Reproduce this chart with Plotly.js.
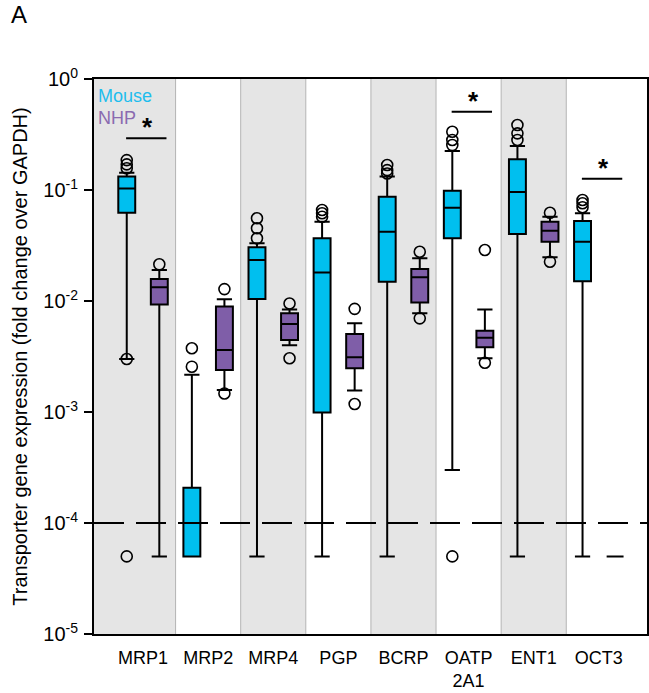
<!DOCTYPE html>
<html>
<head>
<meta charset="utf-8">
<script src="https://cdn.plot.ly/plotly-3.0.1.min.js"></script>
<style>
  html, body { margin: 0; padding: 0; background: #ffffff; }
  #chart { width: 649px; height: 693px; }
</style>
</head>
<body>
<div id="chart"></div>
<script>
// Transporter genes (x categories)
const categories = ['MRP1', 'MRP2', 'MRP4', 'PGP', 'BCRP', 'OATP<br>2A1', 'ENT1', 'OCT3'];

// Mouse box statistics (fold change over GAPDH)
const mouseLower  = [0.003,  5e-5,    5e-5,   5e-5,    5e-5,   3.0e-4, 5e-5,   5e-5];
const mouseQ1     = [0.0625, 5e-5,    0.0104, 9.9e-4,  0.0149, 0.0367, 0.0401, 0.0151];
const mouseMedian = [0.103,  1.0e-4,  0.0234, 0.0181,  0.042,  0.0693, 0.096,  0.0342];
const mouseQ3     = [0.132,  2.08e-4, 0.0305, 0.0367,  0.087,  0.0985, 0.189,  0.0526];
const mouseUpper  = [0.143,  2.17e-3, 0.0331, 0.0518,  0.132,  0.2245, 0.249,  0.0617];

// NHP box statistics
const nhpLower  = [5e-5,   1.58e-3, 4.0e-3,  1.56e-3, 7.75e-3, 3.05e-3, 0.0248, 5e-5];
const nhpQ1     = [0.0093, 2.39e-3, 4.45e-3, 2.48e-3, 9.7e-3,  3.83e-3, 0.0342, 5e-5];
const nhpMedian = [0.0133, 3.62e-3, 6.2e-3,  3.11e-3, 0.0164,  4.67e-3, 0.043,  5e-5];
const nhpQ3     = [0.0158, 8.9e-3,  7.75e-3, 5.04e-3, 0.0194,  5.4e-3,  0.0518, 5e-5];
const nhpUpper  = [0.019,  0.01035, 8.4e-3,  6.3e-3,  0.0243,  8.4e-3,  0.0575, 5e-5];

// Outliers: [category index, value]
const mouseOutliers = [
  [0, 0.186], [0, 0.17], [0, 0.157], [0, 0.003], [0, 5e-5],
  [1, 3.75e-3], [1, 2.56e-3],
  [2, 0.0556], [2, 0.0452], [2, 0.0367],
  [3, 0.066], [3, 0.0617], [3, 0.0575],
  [4, 0.168], [4, 0.151], [4, 0.141],
  [5, 0.335], [5, 0.282], [5, 0.254], [5, 5e-5],
  [6, 0.385], [6, 0.324], [6, 0.282],
  [7, 0.0813], [7, 0.0759], [7, 0.0699]
];
const nhpOutliers = [
  [0, 0.0214],
  [1, 0.0128], [1, 1.47e-3],
  [2, 9.5e-3], [2, 3.05e-3],
  [3, 8.5e-3], [3, 1.18e-3],
  [4, 0.0278], [4, 6.98e-3],
  [5, 0.0288], [5, 2.78e-3],
  [6, 0.0624], [6, 0.0226]
];

// Significance markers: category index and bar height
const sigCategories = [0, 5, 7];
const sigHeights = [0.292, 0.507, 0.126];

// Detection threshold
const threshold = 1e-4;

const tickValues = [1, 0.1, 0.01, 0.001, 1e-4, 1e-5];
const tickLabels = ['10<sup>0</sup>', '10<sup>-1</sup>', '10<sup>-2</sup>', '10<sup>-3</sup>', '10<sup>-4</sup>', '10<sup>-5</sup>'];

const MOUSE = '#00BFEF';
const NHP = '#7F5EA8';
const OFFSET = 0.25;
const BOXW = 0.26;
const idx = categories.map((_, i) => i);

function boxTrace(name, color, shift, lo, q1, med, q3, hi) {
  return {
    type: 'box', name: name,
    x: idx.map(i => i + shift),
    lowerfence: lo, q1: q1, median: med, q3: q3, upperfence: hi,
    width: BOXW, whiskerwidth: 0.9,
    fillcolor: color,
    line: { color: '#000000', width: 2 },
    boxpoints: false,
    hoverinfo: 'skip',
    showlegend: false
  };
}

function outlierTrace(pts, shift) {
  return {
    type: 'scatter', mode: 'markers',
    x: pts.map(p => p[0] + shift),
    y: pts.map(p => p[1]),
    marker: { symbol: 'circle-open', size: 11, color: '#000000', line: { width: 1.6 } },
    hoverinfo: 'skip', showlegend: false
  };
}

const traces = [
  boxTrace('Mouse', MOUSE, -OFFSET, mouseLower, mouseQ1, mouseMedian, mouseQ3, mouseUpper),
  boxTrace('NHP', NHP, OFFSET, nhpLower, nhpQ1, nhpMedian, nhpQ3, nhpUpper),
  outlierTrace(mouseOutliers, -OFFSET),
  outlierTrace(nhpOutliers, OFFSET)
];

const XMIN = -0.753, XMAX = 7.74;
const last = categories.length - 1;
const shapes = [];
// Alternating shaded bands per gene
idx.forEach(i => {
  const x0 = i === 0 ? XMIN : i - 0.5;
  const x1 = i === last ? XMAX : i + 0.5;
  if (i % 2 === 0) {
    shapes.push({ type: 'rect', xref: 'x', yref: 'paper', x0: x0, x1: x1, y0: 0, y1: 1,
      fillcolor: '#e5e5e5', line: { width: 0 }, layer: 'below' });
  }
  if (i > 0) {
    shapes.push({ type: 'line', xref: 'x', yref: 'paper', x0: i - 0.5, x1: i - 0.5, y0: 0, y1: 1,
      line: { color: '#b4b4b4', width: 1 }, layer: 'below' });
  }
});
// Threshold line
shapes.push({ type: 'line', xref: 'paper', yref: 'y', x0: 0, x1: 1, y0: threshold, y1: threshold,
  line: { color: '#000000', width: 2, dash: '30px,12px' }, layer: 'above' });
// Significance bars
sigCategories.forEach((c, k) => {
  shapes.push({ type: 'line', xref: 'x', yref: 'y', x0: c - 0.26, x1: c + 0.36,
    y0: sigHeights[k], y1: sigHeights[k], line: { color: '#000000', width: 2 } });
});

const annotations = [
  { text: 'A', xref: 'paper', yref: 'paper', x: -0.153, y: 1.116, xanchor: 'left', yanchor: 'middle',
    showarrow: false, font: { size: 24, color: '#000000' } },
  { text: 'Mouse', xref: 'paper', yref: 'paper', x: 0.003, y: 0.97, xanchor: 'left', yanchor: 'middle',
    showarrow: false, font: { size: 18, color: '#1EBDED' } },
  { text: 'NHP', xref: 'paper', yref: 'paper', x: 0.003, y: 0.93, xanchor: 'left', yanchor: 'middle',
    showarrow: false, font: { size: 18, color: '#8A6BB0' } }
];
sigCategories.forEach((c, k) => {
  annotations.push({ text: '<b>*</b>', xref: 'x', yref: 'y', x: c + 0.07, y: Math.log10(sigHeights[k]),
    xanchor: 'center', yanchor: 'bottom', yshift: -6, showarrow: false,
    font: { size: 26, color: '#000000' } });
});

const layout = {
  width: 649, height: 693,
  margin: { l: 94, r: 2, t: 79, b: 59 },
  paper_bgcolor: '#ffffff', plot_bgcolor: '#ffffff',
  font: { family: 'Liberation Sans, Arial, sans-serif', color: '#000000' },
  boxmode: 'overlay',
  showlegend: false,
  xaxis: {
    range: [XMIN, XMAX], tickvals: idx, ticktext: categories,
    ticks: '', showgrid: false, zeroline: false,
    showline: true, mirror: true, linecolor: '#000000', linewidth: 2,
    tickfont: { size: 18 }, ticklabelstandoff: 6
  },
  yaxis: {
    type: 'log', range: [-5, 0],
    tickvals: tickValues, ticktext: tickLabels,
    ticks: 'outside', ticklen: 8, tickwidth: 2, tickcolor: '#000000',
    showgrid: false, zeroline: false,
    showline: true, mirror: true, linecolor: '#000000', linewidth: 2,
    tickfont: { size: 20 }, ticklabelstandoff: 2,
    title: { text: 'Transporter gene expression (fold change over GAPDH)', font: { size: 20 }, standoff: 10 }
  },
  shapes: shapes,
  annotations: annotations
};

Plotly.newPlot('chart', traces, layout, { staticPlot: true, displayModeBar: false });
</script>
</body>
</html>
